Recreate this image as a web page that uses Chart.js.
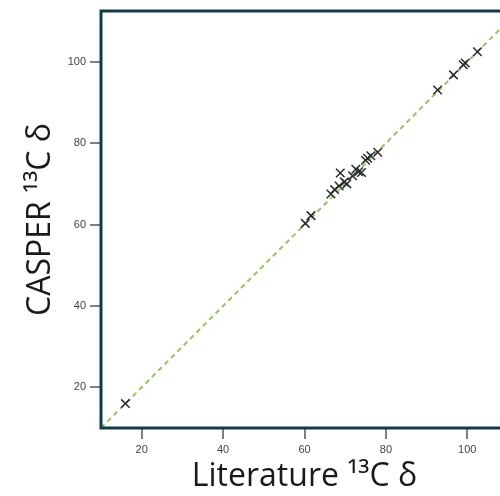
<!DOCTYPE html>
<html>
<head>
<meta charset="utf-8">
<title>CASPER vs literature 13C shifts</title>
<script src="https://cdn.jsdelivr.net/npm/chart.js@4"></script>
<style>
  html, body { margin: 0; padding: 0; background: #fff; overflow: hidden; }
  #wrap { width: 520px; height: 496px; }
</style>
</head>
<body>
<div id="wrap"><canvas id="chart" width="520" height="496"></canvas></div>
<script>
// literature shift vs. CASPER-predicted shift (ppm)
const literature = [16.0, 60.2, 61.6, 66.5, 67.4, 68.8, 68.5, 69.8, 70.4, 71.8, 72.6,
                    73.3, 74.0, 75.0, 75.5, 76.3, 78.0, 92.7, 96.6, 99.0, 99.5, 102.5];
const casper     = [16.0, 60.3, 62.2, 67.5, 68.6, 72.7, 69.5, 70.5, 70.0, 72.0, 73.6,
                    73.0, 72.8, 75.8, 76.3, 76.9, 77.8, 93.1, 96.8, 99.3, 99.7, 102.5];

// y = x reference line
const identity = [10, 115];

const xTicks = [20, 40, 60, 80, 100];
const yTicks = [20, 40, 60, 80, 100];

const frameColor = "#0f3c46";
const tickFont = { family: "Liberation Sans", size: 11 };
const titleFont = { family: "Open Sans", size: 32 };
const tickLen = 11;

// box around the plot area plus outward tick marks
const frame = {
  id: "frame",
  afterDraw(chart) {
    const { ctx, chartArea: a, scales } = chart;
    ctx.save();
    ctx.strokeStyle = "#555";
    ctx.lineWidth = 1.5;
    ctx.beginPath();
    xTicks.forEach((v) => {
      const px = Math.round(scales.x.getPixelForValue(v));
      ctx.moveTo(px, a.bottom);
      ctx.lineTo(px, a.bottom + tickLen);
    });
    yTicks.forEach((v) => {
      const py = Math.round(scales.y.getPixelForValue(v));
      ctx.moveTo(a.left, py);
      ctx.lineTo(a.left - tickLen, py);
    });
    ctx.stroke();
    ctx.strokeStyle = frameColor;
    ctx.lineWidth = 3;
    ctx.strokeRect(a.left, a.top, a.right - a.left, a.bottom - a.top);
    ctx.restore();
  }
};

// tick space is reserved by the scale, the marks themselves come from the plugin
const hiddenGrid = {
  display: true,
  drawOnChartArea: false,
  drawTicks: true,
  tickLength: tickLen,
  tickColor: "rgba(0,0,0,0)"
};

const ctx = document.getElementById("chart").getContext("2d");

new Chart(ctx, {
  type: "scatter",
  data: {
    datasets: [
      {
        type: "line",
        data: identity.map((v) => ({ x: v, y: v })),
        borderColor: "#8fc95a",
        borderWidth: 2,
        borderDash: [5, 4],
        pointRadius: 0,
        fill: false,
        order: 2
      },
      {
        data: literature.map((x, i) => ({ x, y: casper[i] })),
        pointStyle: "crossRot",
        pointRadius: 6,
        pointBorderColor: "#262b2f",
        pointBorderWidth: 1.5,
        order: 1
      }
    ]
  },
  options: {
    responsive: false,
    animation: false,
    layout: { padding: { top: 11, right: 12, left: 0, bottom: 0 } },
    plugins: { legend: { display: false }, tooltip: { enabled: false } },
    scales: {
      x: {
        type: "linear",
        min: 10,
        max: 110,
        afterBuildTicks: (s) => { s.ticks = xTicks.map((v) => ({ value: v })); },
        afterFit: (s) => { s.height = 68; },
        grid: hiddenGrid,
        border: { display: false },
        ticks: { font: tickFont, color: "#444", padding: 4 },
        title: {
          display: true,
          text: "Literature ¹³C δ",
          font: titleFont,
          color: "#1a1a1a",
          padding: { top: 0, bottom: 0 }
        }
      },
      y: {
        type: "linear",
        min: 10,
        max: 112.5,
        afterBuildTicks: (s) => { s.ticks = yTicks.map((v) => ({ value: v })); },
        afterFit: (s) => { s.width = 101; },
        grid: hiddenGrid,
        border: { display: false },
        ticks: { font: tickFont, color: "#444", padding: 4 },
        title: {
          display: true,
          text: "CASPER ¹³C δ",
          font: titleFont,
          color: "#1a1a1a",
          padding: { top: 22, bottom: 0 }
        }
      }
    }
  },
  plugins: [frame]
});
</script>
</body>
</html>
